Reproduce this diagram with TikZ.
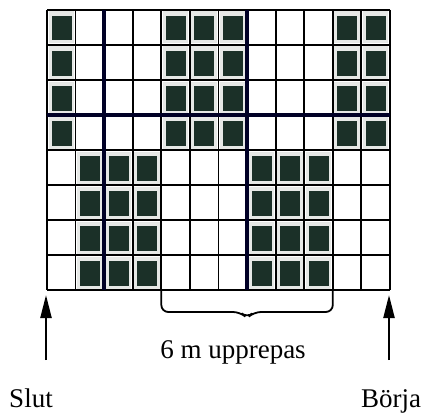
\documentclass[tikz,border=0pt]{standalone}
\usepackage{fontspec}
\setmainfont{Liberation Serif}
\usetikzlibrary{arrows.meta,calc}
\definecolor{stitchDark}{HTML}{1B3028}
\definecolor{stitchHalo}{HTML}{E6E8E6}

\begin{document}
\begin{tikzpicture}[x=1pt, y=-1pt,
    gridline/.style={line width=1.8pt, black},
    boldline/.style={line width=3.6pt, black!85!blue},
    bracepath/.style={line width=1.8pt, rounded corners=7pt},
    uparrow/.style={line width=2.2pt, shorten >=5pt, -{Triangle[length=23pt, width=11pt]}},
    chartlabel/.style={font=\fontsize{27}{32}\selectfont, inner sep=0pt, anchor=base}]

    \useasboundingbox (0,0) rectangle (425,412);

    % filled stitches
    \foreach \c in {1,5,6,7,11,12} \foreach \r in {1,...,4} {
        \fill[stitchHalo] ({47+(\c-1)*28.58+1.5},{10+(\r-1)*35+1.5}) rectangle ({47+\c*28.58-1.5},{10+\r*35-1.5});
        \fill[stitchDark] ({47+(\c-1)*28.58+4.5},{10+(\r-1)*35+6}) rectangle ({47+\c*28.58-4},{10+\r*35-4.5});
    }
    \foreach \c in {2,3,4,8,9,10} \foreach \r in {5,...,8} {
        \fill[stitchHalo] ({47+(\c-1)*28.58+1.5},{10+(\r-1)*35+1.5}) rectangle ({47+\c*28.58-1.5},{10+\r*35-1.5});
        \fill[stitchDark] ({47+(\c-1)*28.58+4.5},{10+(\r-1)*35+6}) rectangle ({47+\c*28.58-4},{10+\r*35-4.5});
    }

    % grid
    \foreach \i in {0,...,12} \draw[gridline] ({47+\i*28.58},10) -- ({47+\i*28.58},290);
    \foreach \j in {0,...,8} \draw[gridline] (47,{10+\j*35}) -- (390,{10+\j*35});
    \draw[boldline] ({47+2*28.58},10) -- ({47+2*28.58},290);
    \draw[boldline] ({47+7*28.58},10) -- ({47+7*28.58},290);
    \draw[boldline] (47,115) -- (390,115);

    \coordinate (gridSW) at (46,290);
    \coordinate (gridSE) at (389,290);
    \coordinate (repeatL) at ({47+4*28.58},290);
    \coordinate (repeatR) at ({47+10*28.58},290);
    \coordinate (slutFoot) at (46,360);
    \coordinate (borjaFoot) at (389,360);

    % repeat brace
    \draw[bracepath] (repeatL) -- ++(0,22) -- ($(repeatL)!.5!(repeatR)+(-7,22)$)
        -- ($(repeatL)!.5!(repeatR)+(0,28)$) -- ($(repeatL)!.5!(repeatR)+(7,22)$)
        -- ($(repeatR)+(0,22)$) -- (repeatR);

    \node (repeatText) [chartlabel] at (233,358) {6 m upprepas};
    \node (slutText) [chartlabel] at (31,407) {Slut};
    \node (borjaText) [chartlabel] at (391,407) {Börja};

    \draw[uparrow] (slutFoot) -- (gridSW);
    \draw[uparrow] (borjaFoot) -- (gridSE);
\end{tikzpicture}
\end{document}
